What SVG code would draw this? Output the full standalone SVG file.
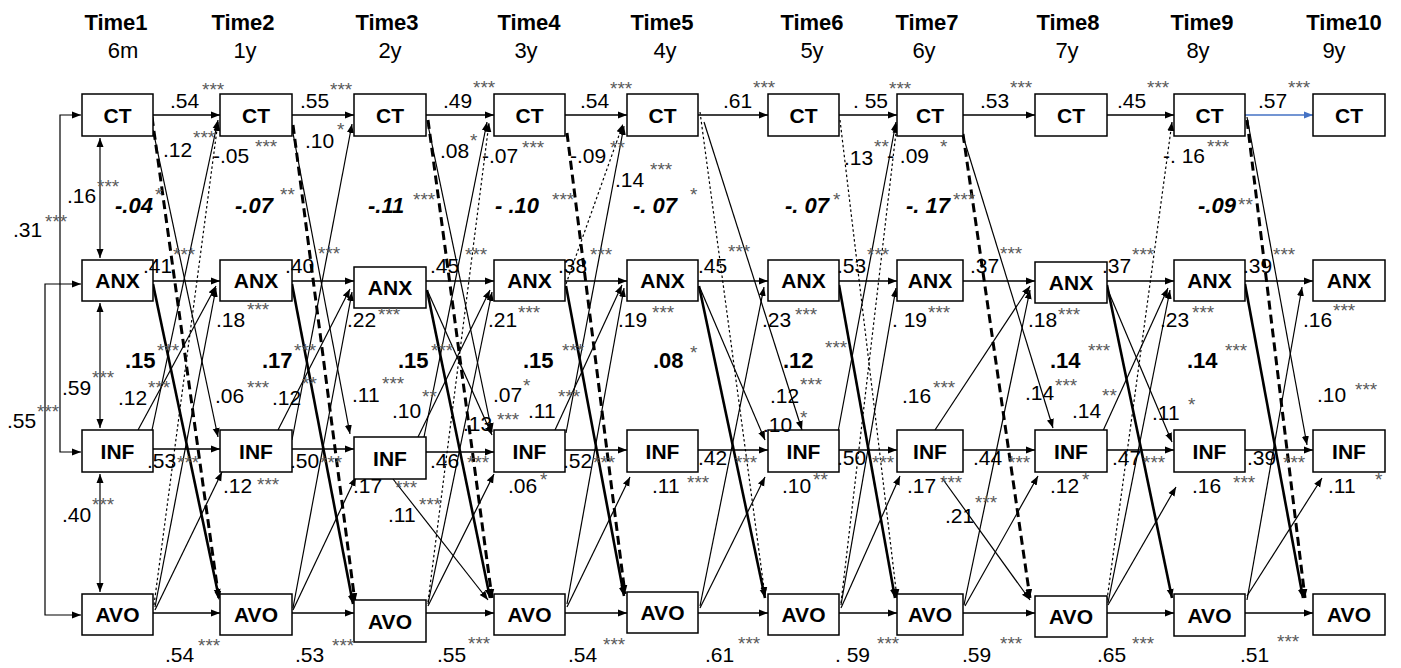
<svg xmlns="http://www.w3.org/2000/svg" width="1401" height="668" viewBox="0 0 1401 668">
<defs>
<marker id="ah" markerUnits="userSpaceOnUse" markerWidth="9" markerHeight="8" refX="9" refY="4" orient="auto-start-reverse"><path d="M0,0.5 L9,4 L0,7.5 Z" fill="#000"/></marker>
<marker id="ahb" markerUnits="userSpaceOnUse" markerWidth="9" markerHeight="8" refX="9" refY="4" orient="auto"><path d="M0,0.5 L9,4 L0,7.5 Z" fill="#4472C4"/></marker>
<style>
text{font-family:"Liberation Sans",Arial,sans-serif;fill:#000}
.t{font-size:21px}
.s{font-size:19px;fill:#5a5a5a}
.bi{font-size:22px;font-weight:bold;font-style:italic}
.b{font-size:22px;font-weight:bold}
.n{font-size:21px;font-weight:bold;text-anchor:middle}
.h{font-size:22px;font-weight:bold;text-anchor:middle}
.sub{font-size:22px;text-anchor:middle}
.box{fill:#fff;stroke:#000;stroke-width:1.5}
line,path.c{stroke:#000;stroke-width:1.2;fill:none;marker-end:url(#ah)}
.dbl{marker-start:url(#ah)}
.ar{stroke-width:1.4}
.dot{stroke-dasharray:2.5 2.5}
.td{stroke-width:3;stroke-dasharray:9 5}
.tk{stroke-width:2.6}
.blue{stroke:#4472C4;marker-end:url(#ahb)}
</style>
</defs>
<rect width="1401" height="668" fill="#fff"/>
<g id="headers">
<text class="h" x="116" y="30">Time1</text><text class="sub" x="123" y="58">6m</text>
<text class="h" x="243" y="30">Time2</text><text class="sub" x="245" y="58">1y</text>
<text class="h" x="387" y="30">Time3</text><text class="sub" x="390" y="58">2y</text>
<text class="h" x="529" y="30">Time4</text><text class="sub" x="526" y="58">3y</text>
<text class="h" x="662" y="30">Time5</text><text class="sub" x="665" y="58">4y</text>
<text class="h" x="812" y="30">Time6</text><text class="sub" x="812" y="58">5y</text>
<text class="h" x="927" y="30">Time7</text><text class="sub" x="924" y="58">6y</text>
<text class="h" x="1068" y="30">Time8</text><text class="sub" x="1067" y="58">7y</text>
<text class="h" x="1202" y="30">Time9</text><text class="sub" x="1198" y="58">8y</text>
<text class="h" x="1344" y="30">Time10</text><text class="sub" x="1334" y="58">9y</text>
</g>
<g id="connectors">
<line class="dbl" x1="100" y1="138" x2="100" y2="258"/>
<line class="dbl" x1="100" y1="303" x2="100" y2="428"/>
<line class="dbl" x1="100" y1="474" x2="100" y2="592"/>
<path class="c dbl" d="M81,115 H60 V452 H81"/>
<path class="c dbl" d="M81,284 H45 V615 H81"/>
<line class="ar" x1="153" y1="115" x2="220" y2="115"/>
<line class="ar" x1="153" y1="281" x2="220" y2="281"/>
<line class="ar" x1="153" y1="449" x2="220" y2="449"/>
<line class="ar" x1="153" y1="613" x2="220" y2="613"/>
<line x1="153" y1="130" x2="218" y2="437"/>
<line class="td" x1="152" y1="117" x2="219" y2="600"/>
<line class="tk" x1="153" y1="284" x2="219" y2="598"/>
<line x1="152" y1="430" x2="218" y2="120"/>
<line class="dot" x1="154" y1="605" x2="218" y2="122"/>
<line x1="138" y1="430" x2="216" y2="286"/>
<line x1="155" y1="607" x2="216" y2="288"/>
<line x1="155" y1="610" x2="222" y2="472"/>
<line class="ar" x1="292" y1="115" x2="354" y2="115"/>
<line class="ar" x1="292" y1="281" x2="354" y2="281"/>
<line class="ar" x1="292" y1="449" x2="354" y2="449"/>
<line class="ar" x1="292" y1="613" x2="354" y2="613"/>
<line x1="292" y1="128" x2="350" y2="434"/>
<line class="td" x1="293" y1="125" x2="355" y2="602"/>
<line class="tk" x1="292" y1="284" x2="353" y2="604"/>
<line x1="292" y1="440" x2="352" y2="124"/>
<line x1="278" y1="430" x2="350" y2="289"/>
<line x1="293" y1="608" x2="352" y2="292"/>
<line x1="293" y1="610" x2="356" y2="477"/>
<line class="ar" x1="426" y1="115" x2="494" y2="115"/>
<line class="ar" x1="426" y1="281" x2="494" y2="281"/>
<line class="ar" x1="426" y1="452" x2="494" y2="452"/>
<line class="ar" x1="426" y1="613" x2="494" y2="613"/>
<line x1="428" y1="125" x2="492" y2="432"/>
<line x1="428" y1="292" x2="492" y2="435"/>
<line class="td" x1="428" y1="120" x2="492" y2="598"/>
<line class="tk" x1="427" y1="290" x2="490" y2="598"/>
<line x1="424" y1="437" x2="487" y2="122"/>
<line class="dot" x1="428" y1="602" x2="489" y2="123"/>
<line x1="418" y1="437" x2="490" y2="290"/>
<line x1="428" y1="604" x2="492" y2="292"/>
<line x1="428" y1="606" x2="494" y2="474"/>
<line x1="393" y1="479" x2="488" y2="600"/>
<line class="ar" x1="565" y1="115" x2="627" y2="115"/>
<line class="ar" x1="565" y1="281" x2="627" y2="281"/>
<line class="ar" x1="565" y1="450" x2="627" y2="450"/>
<line class="ar" x1="565" y1="613" x2="627" y2="613"/>
<line class="dot" x1="566" y1="284" x2="623" y2="124"/>
<line x1="566" y1="433" x2="624" y2="126"/>
<line class="td" x1="567" y1="133" x2="625" y2="594"/>
<line class="tk" x1="566" y1="286" x2="624" y2="596"/>
<line x1="555" y1="430" x2="622" y2="285"/>
<line x1="567" y1="604" x2="624" y2="288"/>
<line x1="567" y1="607" x2="630" y2="477"/>
<line class="ar" x1="698" y1="115" x2="768" y2="115"/>
<line class="ar" x1="698" y1="281" x2="768" y2="281"/>
<line class="ar" x1="698" y1="450" x2="768" y2="450"/>
<line class="ar" x1="698" y1="613" x2="768" y2="613"/>
<line class="dot" x1="700" y1="112" x2="765" y2="596"/>
<line x1="704" y1="122" x2="802" y2="430"/>
<line x1="700" y1="288" x2="765" y2="440"/>
<line class="tk" x1="699" y1="286" x2="765" y2="598"/>
<line x1="700" y1="606" x2="764" y2="287"/>
<line x1="700" y1="608" x2="765" y2="477"/>
<line class="ar" x1="839" y1="115" x2="897" y2="115"/>
<line class="ar" x1="839" y1="281" x2="897" y2="281"/>
<line class="ar" x1="839" y1="450" x2="897" y2="450"/>
<line class="ar" x1="839" y1="613" x2="897" y2="613"/>
<line class="dot" x1="840" y1="120" x2="897" y2="598"/>
<line class="tk" x1="839" y1="285" x2="895" y2="598"/>
<line x1="838" y1="432" x2="896" y2="122"/>
<line class="dot" x1="841" y1="603" x2="897" y2="124"/>
<line x1="841" y1="605" x2="896" y2="288"/>
<line x1="841" y1="608" x2="900" y2="476"/>
<line class="ar" x1="963" y1="115" x2="1035" y2="115"/>
<line class="ar" x1="963" y1="281" x2="1035" y2="281"/>
<line class="ar" x1="963" y1="450" x2="1035" y2="450"/>
<line class="ar" x1="963" y1="613" x2="1035" y2="613"/>
<line class="td" x1="963" y1="134" x2="1030" y2="598"/>
<line x1="963" y1="136" x2="1053" y2="428"/>
<line x1="935" y1="430" x2="1030" y2="286"/>
<line x1="964" y1="605" x2="1030" y2="290"/>
<line x1="942" y1="478" x2="1030" y2="600"/>
<line x1="965" y1="606" x2="1038" y2="476"/>
<line class="ar" x1="1107" y1="115" x2="1174" y2="115"/>
<line class="ar" x1="1107" y1="281" x2="1174" y2="281"/>
<line class="ar" x1="1107" y1="450" x2="1174" y2="450"/>
<line class="ar" x1="1107" y1="613" x2="1174" y2="613"/>
<line class="dot" x1="1107" y1="600" x2="1172" y2="122"/>
<line class="tk" x1="1107" y1="285" x2="1172" y2="598"/>
<line x1="1107" y1="288" x2="1172" y2="442"/>
<line x1="1102" y1="433" x2="1168" y2="288"/>
<line x1="1108" y1="603" x2="1170" y2="290"/>
<line x1="1108" y1="605" x2="1176" y2="487"/>
<line class="ar blue" x1="1245" y1="115" x2="1313" y2="115"/>
<line class="ar" x1="1245" y1="281" x2="1313" y2="281"/>
<line class="ar" x1="1245" y1="450" x2="1313" y2="450"/>
<line class="ar" x1="1245" y1="613" x2="1313" y2="613"/>
<line x1="1247" y1="117" x2="1307" y2="445"/>
<line class="td" x1="1247" y1="120" x2="1305" y2="598"/>
<line class="tk" x1="1245" y1="284" x2="1303" y2="598"/>
<line x1="1247" y1="600" x2="1302" y2="287"/>
<line x1="1247" y1="596" x2="1322" y2="478"/>
</g>
<g id="n_CT1"><rect class="box" x="82" y="94" width="71" height="42"/><text class="n" x="117.5" y="123">CT</text></g>
<g id="n_ANX1"><rect class="box" x="82" y="260" width="71" height="41"/><text class="n" x="117.5" y="288">ANX</text></g>
<g id="n_INF1"><rect class="box" x="82" y="430" width="71" height="42"/><text class="n" x="117.5" y="459">INF</text></g>
<g id="n_AVO1"><rect class="box" x="82" y="594" width="71" height="41"/><text class="n" x="117.5" y="622">AVO</text></g>
<g id="n_CT2"><rect class="box" x="220" y="94" width="72" height="42"/><text class="n" x="256" y="123">CT</text></g>
<g id="n_ANX2"><rect class="box" x="220" y="260" width="72" height="41"/><text class="n" x="256" y="288">ANX</text></g>
<g id="n_INF2"><rect class="box" x="220" y="430" width="72" height="42"/><text class="n" x="256" y="459">INF</text></g>
<g id="n_AVO2"><rect class="box" x="220" y="594" width="72" height="41"/><text class="n" x="256" y="622">AVO</text></g>
<g id="n_CT3"><rect class="box" x="354" y="94" width="72" height="42"/><text class="n" x="390" y="123">CT</text></g>
<g id="n_ANX3"><rect class="box" x="354" y="267" width="72" height="41"/><text class="n" x="390" y="295">ANX</text></g>
<g id="n_INF3"><rect class="box" x="354" y="437" width="72" height="42"/><text class="n" x="390" y="466">INF</text></g>
<g id="n_AVO3"><rect class="box" x="354" y="600" width="72" height="42"/><text class="n" x="390" y="629">AVO</text></g>
<g id="n_CT4"><rect class="box" x="494" y="94" width="71" height="42"/><text class="n" x="529.5" y="123">CT</text></g>
<g id="n_ANX4"><rect class="box" x="494" y="260" width="71" height="41"/><text class="n" x="529.5" y="288">ANX</text></g>
<g id="n_INF4"><rect class="box" x="494" y="430" width="71" height="42"/><text class="n" x="529.5" y="459">INF</text></g>
<g id="n_AVO4"><rect class="box" x="494" y="594" width="71" height="41"/><text class="n" x="529.5" y="622">AVO</text></g>
<g id="n_CT5"><rect class="box" x="627" y="94" width="71" height="42"/><text class="n" x="662.5" y="123">CT</text></g>
<g id="n_ANX5"><rect class="box" x="627" y="260" width="71" height="41"/><text class="n" x="662.5" y="288">ANX</text></g>
<g id="n_INF5"><rect class="box" x="627" y="430" width="71" height="42"/><text class="n" x="662.5" y="459">INF</text></g>
<g id="n_AVO5"><rect class="box" x="627" y="592" width="71" height="41"/><text class="n" x="662.5" y="620">AVO</text></g>
<g id="n_CT6"><rect class="box" x="768" y="94" width="71" height="42"/><text class="n" x="803.5" y="123">CT</text></g>
<g id="n_ANX6"><rect class="box" x="768" y="260" width="71" height="41"/><text class="n" x="803.5" y="288">ANX</text></g>
<g id="n_INF6"><rect class="box" x="768" y="430" width="71" height="42"/><text class="n" x="803.5" y="459">INF</text></g>
<g id="n_AVO6"><rect class="box" x="768" y="594" width="71" height="41"/><text class="n" x="803.5" y="622">AVO</text></g>
<g id="n_CT7"><rect class="box" x="897" y="94" width="66" height="42"/><text class="n" x="930" y="123">CT</text></g>
<g id="n_ANX7"><rect class="box" x="897" y="260" width="66" height="41"/><text class="n" x="930" y="288">ANX</text></g>
<g id="n_INF7"><rect class="box" x="897" y="430" width="66" height="42"/><text class="n" x="930" y="459">INF</text></g>
<g id="n_AVO7"><rect class="box" x="897" y="594" width="66" height="41"/><text class="n" x="930" y="622">AVO</text></g>
<g id="n_CT8"><rect class="box" x="1035" y="94" width="72" height="42"/><text class="n" x="1071" y="123">CT</text></g>
<g id="n_ANX8"><rect class="box" x="1035" y="262" width="72" height="41"/><text class="n" x="1071" y="290">ANX</text></g>
<g id="n_INF8"><rect class="box" x="1035" y="430" width="72" height="42"/><text class="n" x="1071" y="459">INF</text></g>
<g id="n_AVO8"><rect class="box" x="1035" y="596" width="72" height="41"/><text class="n" x="1071" y="624">AVO</text></g>
<g id="n_CT9"><rect class="box" x="1174" y="94" width="71" height="42"/><text class="n" x="1209.5" y="123">CT</text></g>
<g id="n_ANX9"><rect class="box" x="1174" y="260" width="71" height="41"/><text class="n" x="1209.5" y="288">ANX</text></g>
<g id="n_INF9"><rect class="box" x="1174" y="430" width="71" height="42"/><text class="n" x="1209.5" y="459">INF</text></g>
<g id="n_AVO9"><rect class="box" x="1174" y="594" width="71" height="42"/><text class="n" x="1209.5" y="623">AVO</text></g>
<g id="n_CT10"><rect class="box" x="1313" y="94" width="72" height="42"/><text class="n" x="1349" y="123">CT</text></g>
<g id="n_ANX10"><rect class="box" x="1313" y="260" width="72" height="41"/><text class="n" x="1349" y="288">ANX</text></g>
<g id="n_INF10"><rect class="box" x="1313" y="430" width="72" height="42"/><text class="n" x="1349" y="459">INF</text></g>
<g id="n_AVO10"><rect class="box" x="1313" y="594" width="72" height="41"/><text class="n" x="1349" y="622">AVO</text></g>
<g id="labels">
<text class="t" x="170" y="108">.54</text><text class="s" x="202" y="96">***</text>
<text class="t" x="300" y="108">.55</text><text class="s" x="330" y="96">***</text>
<text class="t" x="443" y="108">.49</text><text class="s" x="473" y="94">***</text>
<text class="t" x="580" y="108">.54</text><text class="s" x="610" y="95">***</text>
<text class="t" x="723" y="108">.61</text><text class="s" x="753" y="94">***</text>
<text class="t" x="853" y="108">. 55</text><text class="s" x="889" y="95">***</text>
<text class="t" x="980" y="108">.53</text><text class="s" x="1010" y="94">***</text>
<text class="t" x="1117" y="108">.45</text><text class="s" x="1147" y="94">***</text>
<text class="t" x="1258" y="108">.57</text><text class="s" x="1288" y="94">***</text>
<text class="t" x="163" y="157">.12</text><text class="s" x="193" y="144">***</text>
<text class="t" x="213" y="163">-.05</text><text class="s" x="255" y="153">***</text>
<text class="t" x="305" y="148">.10</text><text class="s" x="337" y="136">*</text>
<text class="t" x="440" y="158">.08</text><text class="s" x="470" y="147">*</text>
<text class="t" x="482" y="163">-.07</text><text class="s" x="522" y="154">***</text>
<text class="t" x="570" y="163">-.09</text><text class="s" x="610" y="154">**</text>
<text class="t" x="615" y="187">.14</text><text class="s" x="650" y="176">***</text>
<text class="t" x="844" y="165">.13</text><text class="s" x="874" y="153">**</text>
<text class="t" x="887" y="163">- .09</text><text class="s" x="940" y="153">*</text>
<text class="t" x="1163" y="163">-. 16</text><text class="s" x="1207" y="153">***</text>
<text class="bi" x="115" y="213">-.04</text><text class="s" x="155" y="201">*</text>
<text class="bi" x="235" y="213">-.07</text><text class="s" x="280" y="201">**</text>
<text class="bi" x="368" y="213">-.11</text><text class="s" x="413" y="206">***</text>
<text class="bi" x="495" y="213">- .10</text><text class="s" x="552" y="206">***</text>
<text class="bi" x="633" y="213">-. 07</text><text class="s" x="690" y="201">*</text>
<text class="bi" x="785" y="213">-. 07</text><text class="s" x="833" y="206">*</text>
<text class="bi" x="906" y="213">-. 17</text><text class="s" x="953" y="206">***</text>
<text class="bi" x="1198" y="213">-.09</text><text class="s" x="1238" y="211">**</text>
<text class="t" x="67" y="203">.16</text><text class="s" x="97" y="193">***</text>
<text class="t" x="13" y="237">.31</text><text class="s" x="45" y="228">***</text>
<text class="t" x="62" y="395">.59</text><text class="s" x="92" y="384">***</text>
<text class="t" x="7" y="428">.55</text><text class="s" x="37" y="418">***</text>
<text class="t" x="62" y="522">.40</text><text class="s" x="92" y="511">***</text>
<text class="t" x="143" y="273">.41</text><text class="s" x="173" y="261">***</text>
<text class="t" x="285" y="273">.40</text><text class="s" x="318" y="260">***</text>
<text class="t" x="430" y="273">.45</text><text class="s" x="465" y="261">***</text>
<text class="t" x="558" y="273">.38</text><text class="s" x="590" y="261">***</text>
<text class="t" x="698" y="273">.45</text><text class="s" x="728" y="258">***</text>
<text class="t" x="837" y="273">.53</text><text class="s" x="867" y="261">***</text>
<text class="t" x="970" y="273">.37</text><text class="s" x="1000" y="260">***</text>
<text class="t" x="1102" y="273">.37</text><text class="s" x="1132" y="261">***</text>
<text class="t" x="1243" y="273">.39</text><text class="s" x="1273" y="261">***</text>
<text class="t" x="216" y="327">.18</text><text class="s" x="247" y="316">***</text>
<text class="t" x="347" y="327">.22</text><text class="s" x="378" y="321">***</text>
<text class="t" x="488" y="327">.21</text><text class="s" x="518" y="319">***</text>
<text class="t" x="618" y="327">.19</text><text class="s" x="652" y="319">***</text>
<text class="t" x="762" y="327">.23</text><text class="s" x="795" y="321">***</text>
<text class="t" x="892" y="327">. 19</text><text class="s" x="928" y="319">***</text>
<text class="t" x="1028" y="327">.18</text><text class="s" x="1058" y="321">***</text>
<text class="t" x="1160" y="327">.23</text><text class="s" x="1192" y="319">***</text>
<text class="t" x="1303" y="327">.16</text><text class="s" x="1333" y="317">***</text>
<text class="b" x="125" y="368">.15</text><text class="s" x="157" y="357">***</text>
<text class="b" x="262" y="368">.17</text><text class="s" x="294" y="357">***</text>
<text class="b" x="398" y="368">.15</text><text class="s" x="431" y="357">***</text>
<text class="b" x="523" y="368">.15</text><text class="s" x="562" y="357">***</text>
<text class="b" x="653" y="368">.08</text><text class="s" x="690" y="359">*</text>
<text class="b" x="783" y="368">.12</text><text class="s" x="825" y="354">***</text>
<text class="b" x="1050" y="368">.14</text><text class="s" x="1088" y="357">***</text>
<text class="b" x="1187" y="368">.14</text><text class="s" x="1225" y="357">***</text>
<text class="t" x="118" y="405">.12</text><text class="s" x="148" y="394">***</text>
<text class="t" x="215" y="403">.06</text><text class="s" x="247" y="394">***</text>
<text class="t" x="272" y="405">.12</text><text class="s" x="302" y="390">**</text>
<text class="t" x="352" y="402">.11</text><text class="s" x="382" y="390">***</text>
<text class="t" x="392" y="418">.10</text><text class="s" x="422" y="403">**</text>
<text class="t" x="463" y="431">.13</text><text class="s" x="497" y="426">***</text>
<text class="t" x="493" y="402">.07</text><text class="s" x="523" y="392">*</text>
<text class="t" x="528" y="418">.11</text><text class="s" x="558" y="403">***</text>
<text class="t" x="770" y="403">.12</text><text class="s" x="800" y="391">***</text>
<text class="t" x="763" y="432">.10</text><text class="s" x="800" y="424">*</text>
<text class="t" x="902" y="403">.16</text><text class="s" x="933" y="394">***</text>
<text class="t" x="1025" y="400">.14</text><text class="s" x="1055" y="392">***</text>
<text class="t" x="1072" y="418">.14</text><text class="s" x="1102" y="402">**</text>
<text class="t" x="1152" y="420">.11</text><text class="s" x="1188" y="411">*</text>
<text class="t" x="1317" y="402">.10</text><text class="s" x="1355" y="396">***</text>
<text class="t" x="147" y="468">.53</text><text class="s" x="177" y="469">***</text>
<text class="t" x="290" y="468">.50</text><text class="s" x="320" y="469">***</text>
<text class="t" x="430" y="468">.46</text><text class="s" x="467" y="469">***</text>
<text class="t" x="563" y="468">.52</text><text class="s" x="593" y="469">***</text>
<text class="t" x="698" y="465">.42</text><text class="s" x="735" y="469">***</text>
<text class="t" x="837" y="465">.50</text><text class="s" x="872" y="469">***</text>
<text class="t" x="973" y="465">.44</text><text class="s" x="1008" y="469">***</text>
<text class="t" x="1112" y="465">.47</text><text class="s" x="1143" y="469">***</text>
<text class="t" x="1247" y="465">.39</text><text class="s" x="1283" y="469">***</text>
<text class="t" x="223" y="493">.12</text><text class="s" x="257" y="491">***</text>
<text class="t" x="353" y="493">.17</text><text class="s" x="395" y="494">***</text>
<text class="t" x="508" y="493">.06</text><text class="s" x="540" y="486">*</text>
<text class="t" x="652" y="493">.11</text><text class="s" x="687" y="489">***</text>
<text class="t" x="782" y="493">.10</text><text class="s" x="813" y="486">**</text>
<text class="t" x="907" y="493">.17</text><text class="s" x="940" y="489">***</text>
<text class="t" x="1050" y="493">.12</text><text class="s" x="1082" y="486">*</text>
<text class="t" x="1192" y="493">.16</text><text class="s" x="1233" y="489">***</text>
<text class="t" x="1328" y="493">.11</text><text class="s" x="1375" y="486">*</text>
<text class="t" x="388" y="522">.11</text><text class="s" x="419" y="511">***</text>
<text class="t" x="945" y="523">.21</text><text class="s" x="975" y="509">***</text>
<text class="t" x="165" y="662">.54</text><text class="s" x="198" y="652">***</text>
<text class="t" x="295" y="662">.53</text><text class="s" x="332" y="652">***</text>
<text class="t" x="437" y="662">.55</text><text class="s" x="468" y="650">***</text>
<text class="t" x="568" y="662">.54</text><text class="s" x="603" y="651">***</text>
<text class="t" x="705" y="662">.61</text><text class="s" x="738" y="650">***</text>
<text class="t" x="835" y="662">. 59</text><text class="s" x="877" y="650">***</text>
<text class="t" x="962" y="662">.59</text><text class="s" x="1000" y="650">***</text>
<text class="t" x="1097" y="662">.65</text><text class="s" x="1132" y="650">***</text>
<text class="t" x="1240" y="662">.51</text><text class="s" x="1277" y="648">***</text>
</g>
</svg>
